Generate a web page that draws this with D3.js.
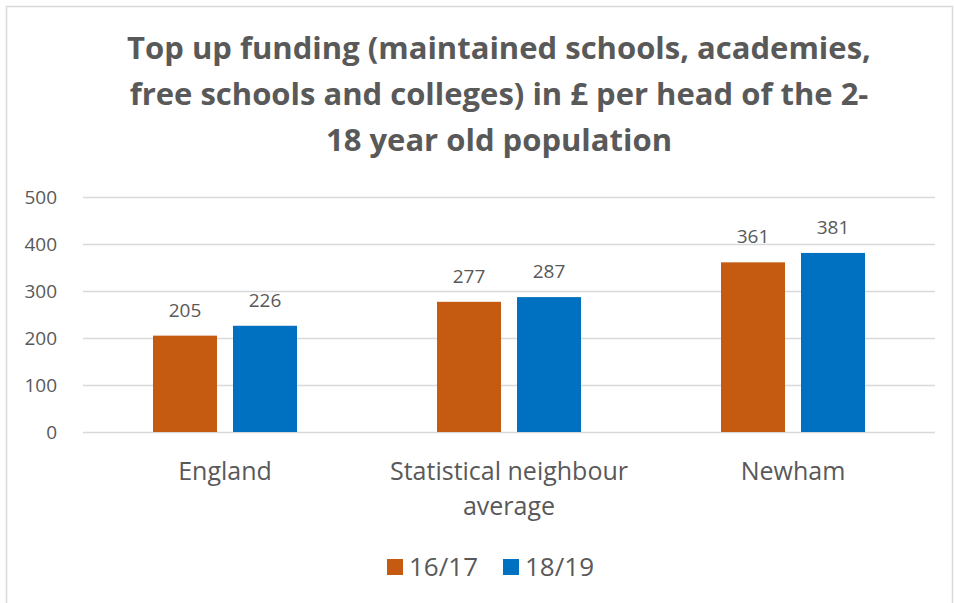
<!DOCTYPE html>
<html>
<head>
<meta charset="utf-8">
<script src="https://cdn.jsdelivr.net/npm/d3@7"></script>
<style>
  html, body { margin: 0; padding: 0; background: #fff; }
  svg { display: block; font-family: "Open Sans", "Noto Sans", sans-serif; }
</style>
</head>
<body>
<svg id="chart" width="954" height="603"></svg>
<script>
// Top up funding per head of the 2-18 population, by area and year
const categories = [["England"], ["Statistical neighbour", "average"], ["Newham"]];
const seriesNames = ["16/17", "18/19"];
const values1617 = [205, 277, 361];
const values1819 = [226, 287, 381];
const yTicks = [0, 100, 200, 300, 400, 500];
const titleLines = [
  "Top up funding (maintained schools, academies,",
  "free schools and colleges) in £ per head of the 2-",
  "18 year old population"
];

const colors = ["#C55A11", "#0070C0"];
const textColor = "#595959";
const gridColor = "#D9D9D9";

const svg = d3.select("#chart");
const catKeys = categories.map(c => c.join(" "));
const rows = catKeys.map((k, i) => ({ key: k, vals: [values1617[i], values1819[i]] }));

// chart frame
svg.append("rect")
  .attr("x", 6.5).attr("y", 6.5)
  .attr("width", 946).attr("height", 640)
  .attr("fill", "#fff")
  .attr("stroke", gridColor).attr("stroke-width", 1.5);

// title
svg.append("g").selectAll("text")
  .data(titleLines)
  .join("text")
  .attr("x", 499)
  .attr("y", (d, i) => 59 + i * 46)
  .attr("text-anchor", "middle")
  .attr("font-size", 31)
  .attr("font-weight", 700)
  .attr("fill", textColor)
  .text(d => d);

const plot = { left: 83, right: 935, top: 197, bottom: 432 };

const y = d3.scaleLinear().domain([0, 500]).range([plot.bottom, plot.top]);
const x0 = d3.scaleBand().domain(catKeys)
  .range([plot.left, plot.right])
  .paddingInner(140 / 284).paddingOuter(70 / 284);
const x1 = d3.scaleBand().domain(seriesNames)
  .range([0, x0.bandwidth()])
  .paddingInner(0.2);

// gridlines and value axis labels
const yAxis = d3.axisLeft(y).tickValues(yTicks)
  .tickSize(-(plot.right - plot.left)).tickPadding(26);
const ga = svg.append("g")
  .attr("transform", `translate(${plot.left},0)`)
  .call(yAxis);
ga.select(".domain").remove();
ga.selectAll(".tick line").attr("stroke", gridColor).attr("stroke-width", 1.3);
ga.selectAll(".tick text")
  .attr("fill", textColor)
  .attr("font-size", 19)
  .attr("font-family", "'Open Sans', sans-serif");

// bars
const groups = svg.append("g").selectAll("g")
  .data(rows)
  .join("g")
  .attr("transform", d => `translate(${x0(d.key)},0)`);

groups.selectAll("rect")
  .data(d => d.vals.map((v, i) => ({ s: seriesNames[i], v, i })))
  .join("rect")
  .attr("x", d => x1(d.s))
  .attr("y", d => y(d.v))
  .attr("width", x1.bandwidth())
  .attr("height", d => y(0) - y(d.v))
  .attr("fill", d => colors[d.i]);

groups.selectAll("text.val")
  .data(d => d.vals.map((v, i) => ({ s: seriesNames[i], v, i })))
  .join("text")
  .attr("class", "val")
  .attr("x", d => x1(d.s) + x1.bandwidth() / 2)
  .attr("y", d => y(d.v) - 19)
  .attr("text-anchor", "middle")
  .attr("font-size", 19)
  .attr("fill", textColor)
  .text(d => d.v);

// category labels
const cat = svg.append("g").selectAll("text")
  .data(categories)
  .join("text")
  .attr("x", (d, i) => x0(catKeys[i]) + x0.bandwidth() / 2)
  .attr("y", 480)
  .attr("text-anchor", "middle")
  .attr("font-size", 25)
  .attr("fill", textColor);
cat.selectAll("tspan")
  .data(d => d)
  .join("tspan")
  .attr("x", function () { return d3.select(this.parentNode).attr("x"); })
  .attr("dy", (d, i) => i === 0 ? 0 : 35)
  .text(d => d);

// legend
const legendX = [387, 503];
const legend = svg.append("g").selectAll("g")
  .data(seriesNames)
  .join("g")
  .attr("transform", (d, i) => `translate(${legendX[i]},559)`);
legend.append("rect")
  .attr("width", 16).attr("height", 16)
  .attr("fill", (d, i) => colors[i]);
legend.append("text")
  .attr("x", 22).attr("y", 17)
  .attr("font-size", 26)
  .attr("fill", textColor)
  .text(d => d);
</script>
</body>
</html>
